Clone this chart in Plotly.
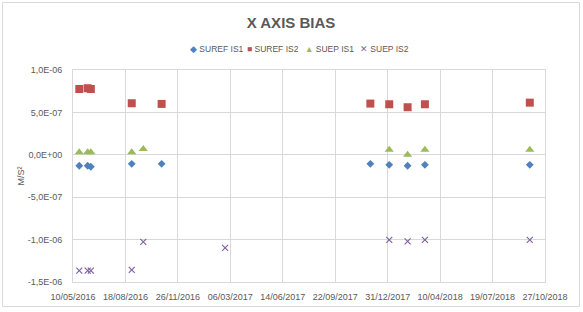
import datetime as dt
import plotly.graph_objects as go

# ---- data ----
series_names = ["SUREF IS1", "SUREF IS2", "SUEP IS1", "SUEP IS2"]

suref_is1_dates = ["2016-05-22", "2016-06-07", "2016-06-13", "2016-08-30", "2016-10-26",
                   "2017-11-28", "2018-01-03", "2018-02-07", "2018-03-12", "2018-09-28"]
suref_is1_values = [-1.29e-7, -1.29e-7, -1.41e-7, -1.06e-7, -1.06e-7,
                    -1.06e-7, -1.18e-7, -1.29e-7, -1.18e-7, -1.18e-7]

suref_is2_dates = ["2016-05-22", "2016-06-07", "2016-06-13", "2016-08-30", "2016-10-26",
                   "2017-11-28", "2018-01-03", "2018-02-07", "2018-03-12", "2018-09-28"]
suref_is2_values = [7.76e-7, 7.85e-7, 7.76e-7, 6.08e-7, 6.00e-7,
                    6.04e-7, 5.96e-7, 5.61e-7, 5.96e-7, 6.15e-7]

suep_is1_dates = ["2016-05-22", "2016-06-07", "2016-06-13", "2016-08-30", "2016-09-21",
                  "2018-01-03", "2018-02-07", "2018-03-12", "2018-09-28"]
suep_is1_values = [3.1e-8, 3.1e-8, 3.1e-8, 3.1e-8, 6.7e-8,
                   5.9e-8, 0.0, 5.9e-8, 5.9e-8]

suep_is2_dates = ["2016-05-22", "2016-06-07", "2016-06-13", "2016-08-30", "2016-09-21",
                  "2017-02-24", "2018-01-03", "2018-02-07", "2018-03-12", "2018-09-28"]
suep_is2_values = [-1.365e-6, -1.365e-6, -1.365e-6, -1.357e-6, -1.027e-6,
                   -1.098e-6, -1.004e-6, -1.020e-6, -1.004e-6, -1.004e-6]

x_tick_labels = ["10/05/2016", "18/08/2016", "26/11/2016", "06/03/2017", "14/06/2017",
                 "22/09/2017", "31/12/2017", "10/04/2018", "19/07/2018", "27/10/2018"]
y_tick_values = [-1.5e-6, -1.0e-6, -5.0e-7, 0.0, 5.0e-7, 1.0e-6]
y_tick_labels = ["-1,5E-06", "-1,0E-06", "-5,0E-07", "0,0E+00", "5,0E-07", "1,0E-06"]

title_text = "X AXIS BIAS"
y_title = "M/S²"

# ---- styling ----
colors = ["#4F81BD", "#C0504D", "#9BBB59", "#8064A2"]
symbols = ["diamond", "square", "triangle-up", "x-thin"]
sizes = [6, 8, 8, 6]
legend_glyphs = ["◆", "■", "▲", "✕"]
FONT = "Liberation Sans"
TXT = "#595959"
GRID = "#d9d9d9"

W, H = 583, 312
ML, MR, MT, MB = 73, 38, 70, 30
PW, PH = W - ML - MR, H - MT - MB


def px_to_paper_x(px):
    return (px - ML) / PW


def px_to_paper_y(py):
    return (H - MB - py) / PH


x_tick_vals = [dt.datetime.strptime(s, "%d/%m/%Y").strftime("%Y-%m-%d") for s in x_tick_labels]

fig = go.Figure()
all_dates = [suref_is1_dates, suref_is2_dates, suep_is1_dates, suep_is2_dates]
all_vals = [suref_is1_values, suref_is2_values, suep_is1_values, suep_is2_values]
for i, name in enumerate(series_names):
    marker = dict(symbol=symbols[i], size=sizes[i], color=colors[i])
    if symbols[i] == "x-thin":
        marker["line"] = dict(color=colors[i], width=1.2)
    fig.add_trace(go.Scatter(x=all_dates[i], y=all_vals[i], mode="markers",
                             name=name, marker=marker, showlegend=False))

# legend drawn as text items (Excel-style compact legend)
legend_px = [188, 245, 303, 358]
annotations = []
for i, name in enumerate(series_names):
    annotations.append(dict(
        x=px_to_paper_x(legend_px[i]), y=px_to_paper_y(49), xref="paper", yref="paper",
        xanchor="left", yanchor="middle", showarrow=False,
        text=f'<span style="color:{colors[i]}">{legend_glyphs[i]}</span> {name}',
        font=dict(family=FONT, size=8.5, color=TXT)))

fig.update_layout(
    width=W, height=H,
    margin=dict(l=ML, r=MR, t=MT, b=MB),
    paper_bgcolor="white", plot_bgcolor="white",
    font=dict(family=FONT, size=9, color=TXT),
    title=dict(text=f"<b>{title_text}</b>", x=291 / W, xref="container", xanchor="center",
               y=1 - 23 / H, yref="container", yanchor="middle",
               font=dict(family=FONT, size=15, color=TXT)),
    annotations=annotations,
    shapes=[dict(type="rect", xref="paper", yref="paper",
                 x0=px_to_paper_x(2.5), x1=px_to_paper_x(579.5),
                 y0=px_to_paper_y(306.5), y1=px_to_paper_y(2.5),
                 line=dict(color=GRID, width=1), layer="below")],
)
fig.update_xaxes(
    type="date", range=[x_tick_vals[0], x_tick_vals[-1]],
    tickvals=x_tick_vals, ticktext=x_tick_labels,
    showgrid=True, gridcolor=GRID, gridwidth=1,
    showline=True, linecolor=GRID, mirror=True,
    zeroline=False, ticks="", ticklabelstandoff=6,
    tickfont=dict(family=FONT, size=9, color=TXT), automargin=False,
)
fig.update_yaxes(
    range=[y_tick_values[0], y_tick_values[-1]],
    tickvals=y_tick_values, ticktext=y_tick_labels,
    showgrid=True, gridcolor=GRID, gridwidth=1,
    showline=True, linecolor=GRID, mirror=True,
    zeroline=False, ticks="", ticklabelstandoff=8,
    tickfont=dict(family=FONT, size=9, color=TXT), automargin=False,
    title=dict(text=y_title, font=dict(family=FONT, size=9, color=TXT), standoff=1),
)

fig.write_html("out.html", config={"displayModeBar": False},
               post_script="document.body.style.margin='0px';")
